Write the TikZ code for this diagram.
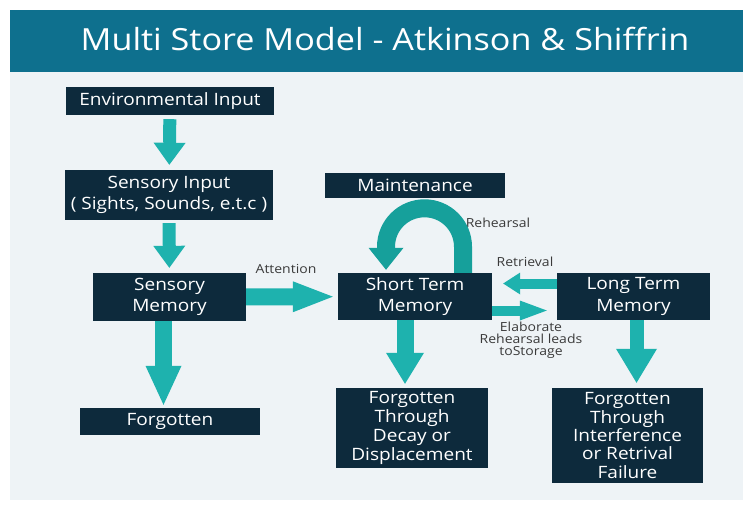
\documentclass[tikz,border=0pt]{standalone}
\usepackage{fontspec}
\setmainfont{Open Sans}[FakeStretch=1.12]
\usetikzlibrary{arrows.meta}

\begin{document}
\begin{tikzpicture}[x=1pt,y=-1pt]
	
	\definecolor{navy}{RGB}{13,42,60}
	\definecolor{banner}{RGB}{14,112,142}
	\definecolor{paleblue}{RGB}{238,243,246}
	\definecolor{arrowteal}{RGB}{30,178,174}
	\definecolor{loopteal}{RGB}{22,160,155}
	\definecolor{labelgray}{RGB}{58,58,58}
	
	\useasboundingbox (0,0) rectangle (743,504);
	\fill[white] (0,0) rectangle (743,504);
	\fill[paleblue] (10,72) rectangle (743,500);
	\fill[banner] (10,10) rectangle (743,72);
	\node[text=white, font=\fontsize{30.5}{36}\selectfont] (title) at (385,39) {Multi Store Model - Atkinson \& Shiffrin};
	
	\tikzset{box/.style = {fill=navy, text=white, align=center, inner sep=0pt, font=\fontsize{17}{21.5}\selectfont}}
	\node[box, minimum width=208pt, minimum height=28pt] (envin) at (170,101) {Environmental Input};
	\node[box, minimum width=208pt, minimum height=50pt] (sensin) at (169,195) {Sensory Input\\( Sights, Sounds, e.t.c )};
	\node[box, minimum width=153pt, minimum height=48pt] (sensmem) at (169.5,297) {Sensory\\Memory};
	\node[box, minimum width=180pt, minimum height=27pt] (forg) at (170,421.5) {Forgotten};
	\node[box, minimum width=180pt, minimum height=25pt] (maint) at (415,185.5) {Maintenance};
	\node[box, minimum width=154pt, minimum height=47pt] (stm) at (415,296.5) {Short Term\\Memory};
	\node[box, minimum width=153pt, minimum height=47pt] (ltm) at (633.5,296.5) {Long Term\\Memory};
	\node[box, minimum width=152pt, minimum height=80pt, font=\fontsize{17}{19}\selectfont] (decay) at (412,428) {Forgotten\\Through\\Decay or\\Displacement};
	\node[box, minimum width=151pt, minimum height=95pt, font=\fontsize{17}{18.3}\selectfont] (interf) at (627.5,435.5) {Forgotten\\Through\\Interference\\or Retrival\\Failure};
	
	\tikzset{lbl/.style = {text=labelgray, inner sep=0pt, font=\fontsize{12.5}{12}\selectfont}}
	\node[lbl] (attn) at (286,269) {Attention};
	\node[lbl] (rehl) at (498,223) {Rehearsal};
	\node[lbl] (retl) at (525,262) {Retrieval};
	\node[lbl, align=center] (elab) at (531,340) {Elaborate\\Rehearsal leads\\toStorage};
	
	\tikzset{flow/.style = {draw=arrowteal, line width=17pt}}
	\draw[flow, line width=13pt, -{Triangle[width=32pt,length=22pt,line width=0pt]}, shorten <=4pt, shorten >=5pt] (envin) -- (sensin);
	\draw[flow, line width=13pt, -{Triangle[width=32pt,length=22pt,line width=0pt]}, shorten <=3pt, shorten >=5pt] (sensin) -- (sensmem);
	\draw[flow, -{Triangle[width=36pt,length=39pt,line width=0pt]}, shorten >=3pt] ([xshift=-6pt]sensmem.south) -- ([xshift=-6pt]sensmem.south |- forg.north);
	\draw[flow, -{Triangle[width=31pt,length=40pt,line width=0pt]}, shorten >=5pt] (sensmem) -- (stm);
	\draw[flow, -{Triangle[width=38pt,length=31pt,line width=0pt]}, shorten >=4pt] ([xshift=-10pt]stm.south) -- ([xshift=-10pt]stm.south |- decay.north);
	\draw[flow, line width=14pt, -{Triangle[width=41pt,length=34pt,line width=0pt]}, shorten >=5pt] ([xshift=3pt]ltm.south) -- ([xshift=3pt]ltm.south |- interf.north);
	\draw[flow, line width=10pt, -{Triangle[width=22pt,length=17pt,line width=0pt]}, shorten >=11pt] ([yshift=13pt]ltm.west) -- ([yshift=13pt]ltm.west -| stm.east);
	\draw[flow, line width=10pt, -{Triangle[width=20pt,length=27pt,line width=0pt]}, shorten >=10pt] ([yshift=-14pt]stm.east) -- ([yshift=-14pt]stm.east -| ltm.west);
	\draw[flow, draw=loopteal, line width=18pt, -{Triangle[width=35pt,length=22pt,line width=0pt]}, shorten >=3pt] ([xshift=48pt]stm.north) -- ++(0,-26) arc[start angle=0, end angle=180, radius=38.5pt] -- ([xshift=-29pt]stm.north);
	
\end{tikzpicture}
\end{document}
